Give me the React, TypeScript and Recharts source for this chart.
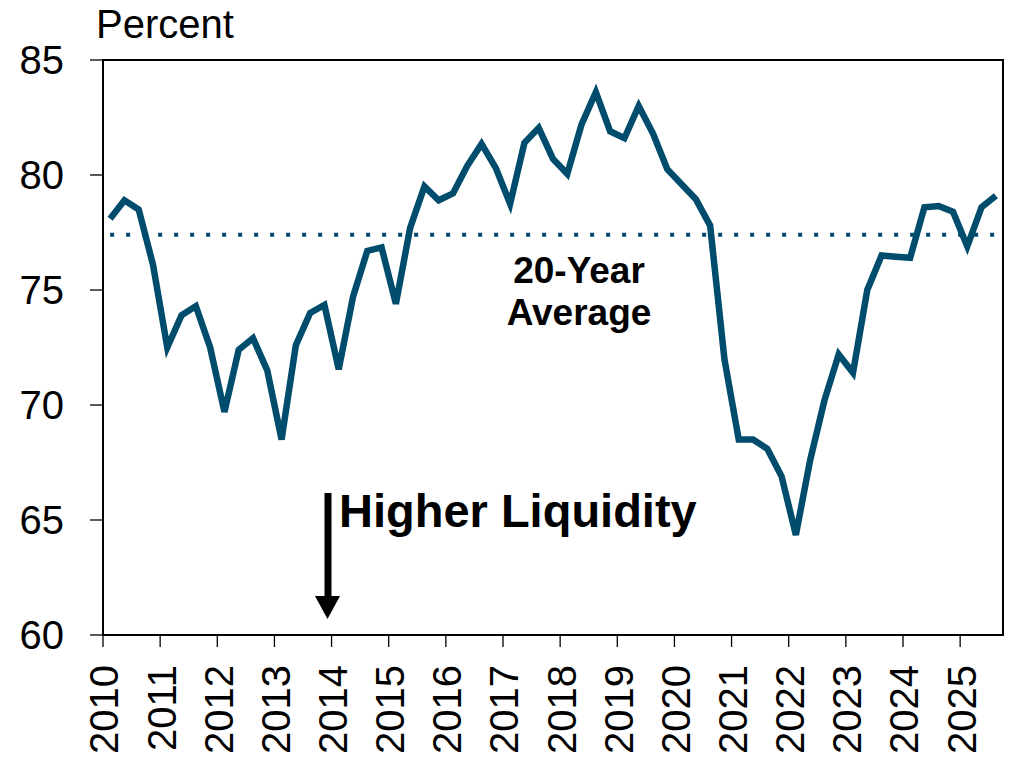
import React from 'react'
import {
  LineChart,
  Line,
  XAxis,
  YAxis,
  ReferenceArea,
} from 'recharts'

// quarterly readings, 2010 Q1 .. 2025 Q3
const startYear = 2010
const values = [
  78.1, 78.9, 78.5, 76.1,
  72.5, 73.9, 74.3, 72.5,
  69.7, 72.4, 72.9, 71.5,
  68.5, 72.6, 74.0, 74.35,
  71.55, 74.7, 76.7, 76.85,
  74.4, 77.7, 79.5, 78.9,
  79.2, 80.4, 81.35, 80.3,
  78.75, 81.4, 82.05, 80.7,
  80.05, 82.2, 83.6, 81.9,
  81.6, 83.0, 81.8, 80.25,
  79.6, 78.95, 77.8, 72.0,
  68.5, 68.5, 68.1, 66.9,
  64.35, 67.6, 70.2, 72.2,
  71.4, 75.0, 76.5, 76.45,
  76.4, 78.6, 78.65, 78.4,
  76.9, 78.6, 79.1,
]
const twentyYearAverage = 77.4

const yearTicks = [2010, 2011, 2012, 2013, 2014, 2015, 2016, 2017, 2018, 2019, 2020, 2021, 2022, 2023, 2024, 2025]
const valueTicks = [60, 65, 70, 75, 80, 85]

const LINE_COLOR = '#004c6c'
const FONT = '"Liberation Sans", Arial, Helvetica, sans-serif'

const data = values.map((v, i) => ({
  t: startYear + Math.floor(i / 4) + (i % 4) * 0.25 + 0.125,
  value: v,
  avg: twentyYearAverage,
}))

function YearTick(props: any) {
  const { x, y, payload } = props
  return (
    <text
      transform={`translate(${x + 1},${y}) rotate(-90)`}
      textAnchor="end"
      dy="0.36em"
      fontSize={40}
      fontFamily={FONT}
      fill="#000"
    >
      {payload.value}
    </text>
  )
}

export default function App() {
  return (
    <div style={{ position: 'absolute', left: 0, top: 0, width: 1011, height: 764, background: '#fff', fontFamily: FONT }}>
      <LineChart
        width={1011}
        height={764}
        data={data}
        margin={{ top: 60, right: 8, left: 0, bottom: 0 }}
      >
        <XAxis
          dataKey="t"
          type="number"
          domain={[2010, 2025.75]}
          ticks={yearTicks}
          interval={0}
          height={129}
          tickSize={12}
          tickMargin={18}
          axisLine={{ stroke: '#000', strokeWidth: 2 }}
          tickLine={{ stroke: '#000', strokeWidth: 1.3 }}
          tick={<YearTick />}
        />
        <YAxis
          type="number"
          domain={[60, 85]}
          ticks={valueTicks}
          interval={0}
          width={103}
          tickSize={13}
          tickMargin={26}
          axisLine={{ stroke: '#000', strokeWidth: 2 }}
          tickLine={{ stroke: '#000', strokeWidth: 1.3 }}
          tick={{ fill: '#000', fontSize: 40, fontFamily: FONT }}
        />
        <ReferenceArea
          x1={2010}
          x2={2025.75}
          y1={60}
          y2={85}
          fill="none"
          stroke="#000"
          strokeWidth={2}
        />
        <Line
          type="linear"
          dataKey="avg"
          stroke={LINE_COLOR}
          strokeWidth={4}
          strokeDasharray="4 12"
          dot={false}
          activeDot={false}
          isAnimationActive={false}
        />
        <Line
          type="linear"
          dataKey="value"
          stroke={LINE_COLOR}
          strokeWidth={6.5}
          dot={false}
          activeDot={false}
          isAnimationActive={false}
        />
      </LineChart>
      <svg
        width={1011}
        height={764}
        style={{ position: 'absolute', left: 0, top: 0, pointerEvents: 'none' }}
      >
        <text x={96} y={38} fontSize={40} fontFamily={FONT} fill="#000">Percent</text>
        <text x={579} y={283} textAnchor="middle" fontSize={37} fontWeight="bold" fontFamily={FONT} fill="#000">20-Year</text>
        <text x={579} y={325} textAnchor="middle" fontSize={37} fontWeight="bold" fontFamily={FONT} fill="#000">Average</text>
        <text x={339} y={527} fontSize={47} fontWeight="bold" fontFamily={FONT} fill="#000">Higher Liquidity</text>
        <line x1={328} y1={493} x2={328} y2={598} stroke="#000" strokeWidth={7} />
        <polygon points="315,596 340,596 327.5,619" fill="#000" />
      </svg>
    </div>
  )
}
